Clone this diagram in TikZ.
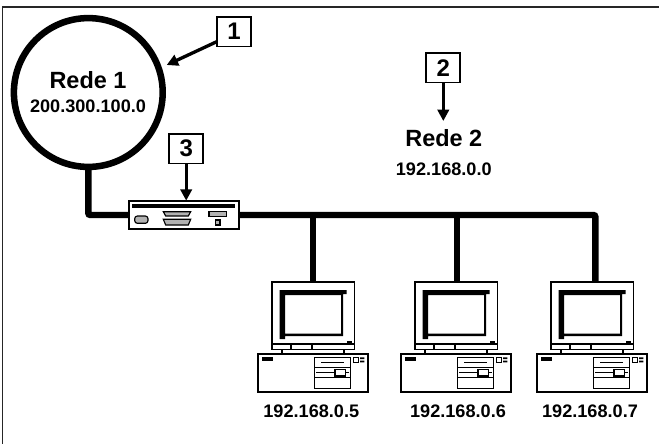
\documentclass[tikz,border=0pt]{standalone}
\usepackage{fontspec}
\setmainfont{Liberation Sans}
\usetikzlibrary{arrows.meta}
\tikzset{
  x=0.75pt,y=-0.75pt,
  netline/.style={line width=4.8pt,rounded corners=1.5pt},
  pointer/.style={line width=2.5pt,-{Triangle[length=8.5pt,width=8.5pt]}},
  numbox/.style={draw,fill=white,line width=1.3pt,minimum width=25.5pt,minimum height=22pt,inner sep=0pt,outer sep=0pt,font=\fontsize{18}{20}\selectfont\bfseries},
  iplabel/.style={inner sep=0pt,font=\fontsize{13.6}{15}\selectfont\bfseries},
  netlabel/.style={inner sep=0pt,font=\fontsize{17.6}{19}\selectfont\bfseries},
  netcircle/.style={circle,draw,line width=4.9pt,minimum size=111.6pt,inner sep=0pt,outer sep=0pt},
  routerbox/.style={draw,fill=white,line width=1.5pt,minimum width=82.5pt,minimum height=21.5pt,inner sep=0pt,outer sep=0pt},
  monbox/.style={draw,fill=white,line width=1.4pt,minimum width=61.9pt,minimum height=50.6pt,inner sep=0pt,outer sep=0pt},
  casebox/.style={draw,line width=1.6pt,fill=white},
  thin part/.style={draw,line width=0.85pt},
  gray part/.style={draw,line width=0.85pt,fill=gray!60},
  computer/.pic={
    \draw[line width=1.3pt] (10.3,67) -- (10.3,72) (71.7,67) -- (71.7,72);
    \node[monbox] (-mon) at (41.25,33.75) {};
    \fill[even odd rule] (7.5,8) -- (74.7,8) -- (74.7,12) -- (71,12) -- (71,54) -- (13,54) -- (13,57) -- (7.5,57) -- cycle
      (13,13) rectangle (69,51.5);
    \draw[line width=0.85pt] (0,62) -- (82.5,62) (19,62) -- (19,67.5) (40,62) -- (40,67.5);
    \fill (75,59) rectangle (80,61);
    \draw[casebox] (-14,71.7) rectangle (95.7,110);
    \fill (-10,75) rectangle (1,79);
    \draw[thin part] (42.7,75.3) rectangle (78.3,106.3);
    \draw[thin part] (42.7,85.7) -- (78.3,85.7) (42.7,95.7) -- (78.3,95.7) (44,90.7) -- (77,90.7);
    \fill (49,79.7) rectangle (72,81.3);
    \draw[thin part,fill=white] (63,87.3) rectangle (73.7,94);
    \draw[thin part] (81.7,75.3) rectangle (86.7,80.3);
    \fill (88,75.3) rectangle (92.3,77) (88,78.5) rectangle (92.3,80.3);
  }
}
\begin{document}
\begin{tikzpicture}
\useasboundingbox (0,0) rectangle (659,444);
\fill[white] (0,0) rectangle (659,444);
% frame (top and left only)
\coordinate (frameTR) at (659,7);
\coordinate (frameTL) at (2.5,7);
\coordinate (frameBL) at (2.5,444);
\draw[line width=1.1pt,black!85] (frameTR) -- (frameTL) -- (frameBL);
% network 1
\node[netcircle] (net1) at (88.3,92.5) {};
\node[netlabel] (net1name) at (88,80) {Rede 1};
\node[iplabel] (net1ip) at (88,106.7) {200.300.100.0};
% computers
\pic (c1) at (272,282) {computer};
\pic (c2) at (415,282) {computer};
\pic (c3) at (551,282) {computer};
\coordinate (d1) at (313,282);
\coordinate (d2) at (456.7,282);
\coordinate (d3) at (595.4,282);
% cables
\node[routerbox] (router) at (183.7,215) {};
\draw[netline] (net1.south) |- (router.west);
\draw[netline] (router.east) -| (d3);
\draw[netline,rounded corners=0pt] (d1) -- (d1 |- router.east);
\draw[netline,rounded corners=0pt] (d2) -- (d2 |- router.east);
% router details
\fill (132,203.7) rectangle (235.3,208.3);
\draw[gray part,rounded corners=2pt] (134.7,216) rectangle (148,223.3);
\draw[gray part] (163.3,211.7) -- (190.7,211.7) -- (188.3,216) -- (165.7,216) -- cycle;
\draw[gray part] (163.3,219.3) -- (190.7,219.3) -- (188.3,225) -- (165.7,225) -- cycle;
\draw[gray part] (209,211.7) rectangle (226.7,216.3);
\draw[gray part] (215.3,220) rectangle (220,225);
% callouts
\node[numbox] (n1) at (234,31.7) {1};
\node[numbox] (n2) at (443.3,67.7) {2};
\node[numbox] (n3) at (186.2,148.7) {3};
\coordinate (t1) at (166.7,65);
\coordinate (s1) at (216.7,41.7);
\coordinate (t2) at (443.3,121);
\draw[pointer] (s1) -- (t1);
\draw[pointer] (n2.south) -- (t2);
\draw[pointer] (n3.south) -- (router.north -| n3.south);
% labels
\node[netlabel] (net2name) at (443.8,138.3) {Rede 2};
\node[iplabel] (net2ip) at (443.8,169) {192.168.0.0};
\node[iplabel] (ip5) at (311.3,411.7) {192.168.0.5};
\node[iplabel] (ip6) at (458,411.7) {192.168.0.6};
\node[iplabel] (ip7) at (590,411.7) {192.168.0.7};
\end{tikzpicture}
\end{document}
